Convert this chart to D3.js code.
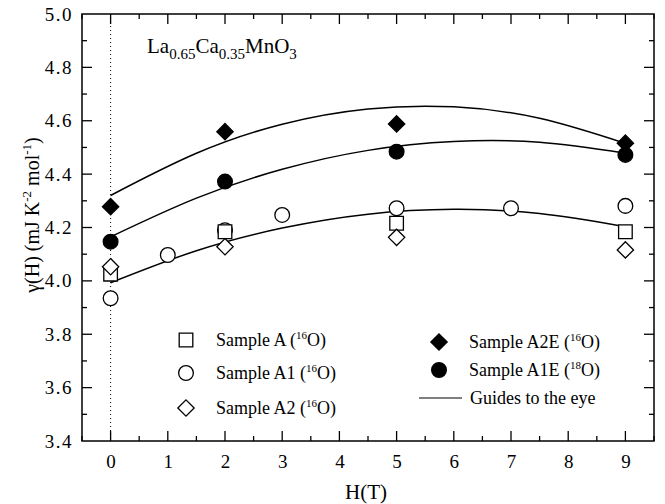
<!DOCTYPE html>
<html><head><meta charset="utf-8">
<script src="https://cdn.jsdelivr.net/npm/d3@7"></script>
<style>body{margin:0;background:#fff}svg{display:block}</style>
</head><body><svg id="c" width="665" height="504"></svg>
<script>
// Data
const xTicks = [0,1,2,3,4,5,6,7,8,9];
const yTicks = [3.4,3.6,3.8,4.0,4.2,4.4,4.6,4.8,5.0];
const sampleA_H = [0,2,5,9];      const sampleA_G = [4.025,4.184,4.216,4.184];
const sampleA1_H = [0,1,2,3,5,7,9]; const sampleA1_G = [3.935,4.097,4.19,4.247,4.272,4.272,4.281];
const sampleA2_H = [0,2,5,9];     const sampleA2_G = [4.053,4.128,4.163,4.116];
const sampleA2E_H = [0,2,5,9];    const sampleA2E_G = [4.278,4.559,4.588,4.516];
const sampleA1E_H = [0,2,5,9];    const sampleA1E_G = [4.147,4.372,4.484,4.472];
const guideH = [0,1.5,3,4.5,6,7.5,9];
const guideTop = [4.32,4.478,4.587,4.644,4.652,4.609,4.515];
const guideMid = [4.165,4.31,4.418,4.489,4.522,4.519,4.478];
const guideLow = [3.993,4.113,4.198,4.25,4.268,4.2525,4.203];

const FONT = "'Liberation Serif', Tinos, 'Times New Roman', Times, serif";
const svg = d3.select("#c").attr("font-family",FONT);
const L=82,R=654,T=14,B=441;
const x = d3.scaleLinear().domain([-0.5,9.5]).range([L,R]);
const y = d3.scaleLinear().domain([3.4,5.0]).range([B,T]);

// dotted line at H=0
svg.append("line").attr("x1",x(0)).attr("x2",x(0)).attr("y1",T).attr("y2",B)
  .attr("stroke","#000").attr("stroke-width",1).attr("stroke-dasharray","1,3");

// frame
svg.append("rect").attr("x",L).attr("y",T).attr("width",R-L).attr("height",B-T)
  .attr("fill","none").attr("stroke","#000").attr("stroke-width",1.5);

const xMinor = d3.range(-0.5,9.51,0.5).filter(v=>Math.abs(v-Math.round(v))>0.01);
const yMinor = d3.range(3.5,5.0,0.2);
const g = svg.append("g").attr("stroke","#000").attr("stroke-width",1.3);
function tk(arr, len, horiz){
  arr.forEach(v=>{
    if(horiz){
      g.append("line").attr("x1",x(v)).attr("x2",x(v)).attr("y1",B).attr("y2",B-len);
      g.append("line").attr("x1",x(v)).attr("x2",x(v)).attr("y1",T).attr("y2",T+len);
    } else {
      g.append("line").attr("y1",y(v)).attr("y2",y(v)).attr("x1",L).attr("x2",L+len);
      g.append("line").attr("y1",y(v)).attr("y2",y(v)).attr("x1",R).attr("x2",R-len);
    }
  });
}
tk(xTicks,10,true); tk(xMinor,5,true); tk(yTicks.slice(1,-1),10,false); tk(yMinor,5,false);

const xa = svg.append("g").attr("transform",`translate(0,${B})`)
  .call(d3.axisBottom(x).tickValues(xTicks).tickSize(0).tickPadding(14).tickFormat(d3.format("d")));
xa.select(".domain").remove();
xa.attr("font-family",FONT).attr("font-size",19);
const ya = svg.append("g").attr("transform",`translate(${L},0)`)
  .call(d3.axisLeft(y).tickValues(yTicks).tickSize(0).tickPadding(9).tickFormat(d3.format(".1f")));
ya.select(".domain").remove();
ya.attr("font-family",FONT).attr("font-size",19);
ya.selectAll("text").attr("letter-spacing",1.5);

svg.append("text").attr("x",366).attr("y",499).attr("text-anchor","middle").attr("font-size",21).text("H(T)");
const yt = svg.append("text").attr("transform","translate(39,215) rotate(-90)").attr("text-anchor","middle").attr("font-size",20);
yt.append("tspan").text("γ(H)  (mJ K");
yt.append("tspan").attr("dy",-8).attr("font-size",13).text("-2");
yt.append("tspan").attr("dy",8).text(" mol");
yt.append("tspan").attr("dy",-8).attr("font-size",13).text("-1");
yt.append("tspan").attr("dy",8).text(")");

const ti = svg.append("text").attr("x",147).attr("y",53).attr("font-size",21);
ti.append("tspan").text("La");
ti.append("tspan").attr("dy",6).attr("font-size",15).text("0.65");
ti.append("tspan").attr("dy",-6).text("Ca");
ti.append("tspan").attr("dy",6).attr("font-size",15).text("0.35");
ti.append("tspan").attr("dy",-6).text("MnO");
ti.append("tspan").attr("dy",6).attr("font-size",15).text("3");

// guides
const line = d3.line().x(d=>x(d[0])).y(d=>y(d[1])).curve(d3.curveNatural);
[guideTop,guideMid,guideLow].forEach(arr=>{
  svg.append("path").attr("d",line(guideH.map((h,i)=>[h,arr[i]])))
    .attr("fill","none").attr("stroke","#000").attr("stroke-width",1.5);
});

const sq = d3.symbol().type(d3.symbolSquare).size(185);
const ci = d3.symbol().type(d3.symbolCircle).size(170);
const di = d3.symbol().type(d3.symbolDiamond2).size(170);
function pts(H,G,sym,fill){
  svg.append("g").selectAll("path").data(H.map((h,i)=>[h,G[i]])).join("path")
    .attr("transform",d=>`translate(${x(d[0])},${y(d[1])})`)
    .attr("d",sym).attr("fill",fill).attr("stroke","#000").attr("stroke-width",1.3);
}
pts(sampleA1_H,sampleA1_G,ci,"#fff");
pts(sampleA_H,sampleA_G,sq,"#fff");
pts(sampleA2_H,sampleA2_G,di,"#fff");
pts(sampleA2E_H,sampleA2E_G,di,"#000");
pts(sampleA1E_H,sampleA1E_G,ci,"#000");

// legend
const leg = [
 {x:186,y:340,sym:sq,fill:"#fff",name:"Sample A (",iso:"16"},
 {x:186,y:373,sym:ci,fill:"#fff",name:"Sample A1 (",iso:"16"},
 {x:186,y:408,sym:di,fill:"#fff",name:"Sample A2 (",iso:"16"},
 {x:439,y:342,sym:di,fill:"#000",name:"Sample A2E (",iso:"16"},
 {x:439,y:370,sym:ci,fill:"#000",name:"Sample A1E (",iso:"18"}
];
leg.forEach(l=>{
  svg.append("path").attr("transform",`translate(${l.x},${l.y})`).attr("d",l.sym)
    .attr("fill",l.fill).attr("stroke","#000").attr("stroke-width",1.3);
  const t = svg.append("text").attr("x",l.x+30).attr("y",l.y+6).attr("font-size",18);
  t.append("tspan").text(l.name);
  t.append("tspan").attr("dy",-7).attr("font-size",11).text(l.iso);
  t.append("tspan").attr("dy",7).text("O)");
});
svg.append("line").attr("x1",419).attr("x2",462).attr("y1",398).attr("y2",398).attr("stroke","#000").attr("stroke-width",1.2);
svg.append("text").attr("x",470).attr("y",404).attr("font-size",18).text("Guides to the eye");
</script></body></html>
